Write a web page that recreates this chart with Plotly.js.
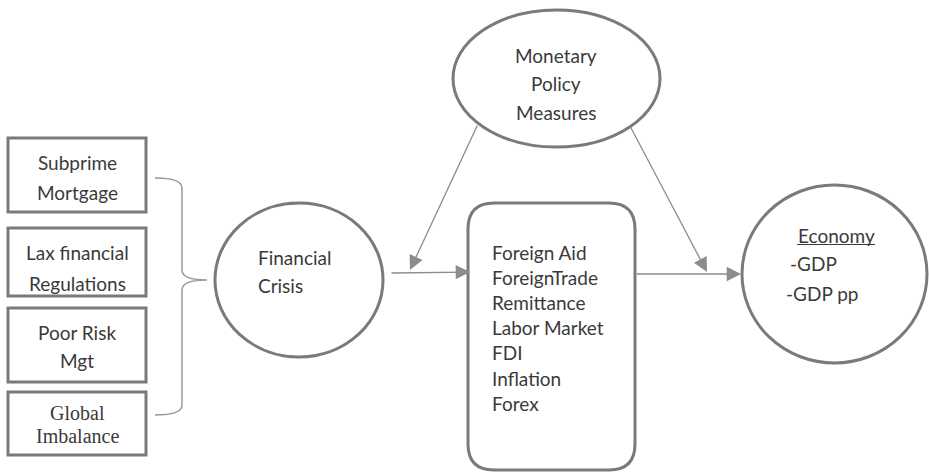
<!DOCTYPE html>
<html>
<head>
<meta charset="utf-8">
<script src="https://cdn.plot.ly/plotly-3.0.1.min.js"></script>
<style>html,body{margin:0;padding:0;background:#fff;}#chart{width:929px;height:472px;}</style>
</head>
<body>
<div id="chart"></div>
<script>
// ---- Diagram content ----
const causeLines = [
  ['Subprime', 'Mortgage'],
  ['Lax financial', 'Regulations'],
  ['Poor Risk', 'Mgt'],
  ['Global', 'Imbalance']
];
const crisisLines = ['Financial', 'Crisis'];
const policyLines = ['Monetary', 'Policy', 'Measures'];
const channels = ['Foreign Aid', 'ForeignTrade', 'Remittance', 'Labor Market', 'FDI', 'Inflation', 'Forex'];
const economyTitle = 'Economy';
const economyIndicators = ['-GDP', '-GDP pp'];

// ---- Layout geometry (pixels, y down) ----
const causeBoxes = [[8,138,146,212],[8,228,146,296],[8,308,146,382],[8,392,146,455]];
const causeTextY = [[162,192],[252,283],[332,360],[413,436]];
const crisisNode = [215,203,383,357];
const policyNode = [453,10,660,147];
const channelBox = [468,203,635,470];
const economyNode = [742,185,927,363];

const STROKE = '#7a7a7a';
const TEXT = '#3a3a3a';
const ARROW = '#8c8c8c';
const FONT = 'Lato, "Open Sans", sans-serif';
const FS = 19;

const shapes = [];
const annotations = [];

causeBoxes.forEach((b, i) => {
  shapes.push({type:'rect', x0:b[0], y0:b[1], x1:b[2], y1:b[3], line:{color:STROKE, width:3}, fillcolor:'rgba(0,0,0,0)'});
  const serif = (i === 3);
  causeLines[i].forEach((t, j) => {
    annotations.push({x:(b[0]+b[2])/2, y:causeTextY[i][j], text:t, showarrow:false, xanchor:'center', yanchor:'middle',
      font:{family: serif ? '"Liberation Serif", "DejaVu Serif", serif' : FONT, size: serif ? 20 : FS, color:TEXT}});
  });
});

// brace
shapes.push({type:'path', path:'M 155,178 Q 182,178 182,188 L 182,270 Q 182,280 207,280 Q 182,280 182,290 L 182,405 Q 182,415 155,415',
  line:{color:'#9a9a9a', width:1.5}});

// ellipses
[crisisNode, policyNode, economyNode].forEach(n => {
  shapes.push({type:'circle', x0:n[0], y0:n[1], x1:n[2], y1:n[3], line:{color:STROKE, width:3}, fillcolor:'rgba(0,0,0,0)'});
});

// rounded box
(function(){
  const [x0,y0,x1,y1] = channelBox, r = 26;
  const p = `M ${x0+r},${y0} L ${x1-r},${y0} Q ${x1},${y0} ${x1},${y0+r} L ${x1},${y1-r} Q ${x1},${y1} ${x1-r},${y1} ` +
            `L ${x0+r},${y1} Q ${x0},${y1} ${x0},${y1-r} L ${x0},${y0+r} Q ${x0},${y0} ${x0+r},${y0} Z`;
  shapes.push({type:'path', path:p, line:{color:STROKE, width:3}});
})();

// crisis text
crisisLines.forEach((t, j) => {
  annotations.push({x:256, y:257 + j*28, text:t, showarrow:false, xanchor:'left', yanchor:'middle', font:{family:FONT, size:FS, color:TEXT}});
});
// policy text
policyLines.forEach((t, j) => {
  annotations.push({x:556, y:55 + j*28.5, text:t, showarrow:false, xanchor:'center', yanchor:'middle', font:{family:FONT, size:FS, color:TEXT}});
});
// channels
channels.forEach((t, j) => {
  annotations.push({x:490, y:252 + j*25.2, text:t, showarrow:false, xanchor:'left', yanchor:'middle', font:{family:FONT, size:FS, color:TEXT}});
});
// economy
annotations.push({x:836, y:235, text:economyTitle, showarrow:false, xanchor:'center', yanchor:'middle', font:{family:FONT, size:FS, color:TEXT}});
shapes.push({type:'line', x0:797, x1:875, y0:244.5, y1:244.5, line:{color:TEXT, width:1}});
economyIndicators.forEach((t, j) => {
  annotations.push({x:[788,784][j], y:263 + j*30, text:t, showarrow:false, xanchor:'left', yanchor:'middle', font:{family:FONT, size:FS, color:TEXT}});
});

// arrows: [tailX, tailY, tipX, tipY]
const arrows = [[390,273,470,272],[478,124,410,270],[635,274,741,274],[630,126,707,272]];
arrows.forEach(a => {
  annotations.push({x:a[2], y:a[3], ax:a[0], ay:a[1], xref:'x', yref:'y', axref:'x', ayref:'y', text:'', showarrow:true,
    arrowhead:2, arrowsize:2.2, arrowwidth:1.3, arrowcolor:ARROW, standoff:0, startstandoff:0});
});

const layout = {
  width:929, height:472,
  margin:{l:0, r:0, t:0, b:0},
  paper_bgcolor:'#ffffff', plot_bgcolor:'#ffffff',
  xaxis:{range:[0,929], visible:false, fixedrange:true},
  yaxis:{range:[472,0], visible:false, fixedrange:true},
  shapes:shapes, annotations:annotations, showlegend:false
};
Plotly.newPlot('chart', [{x:[], y:[], type:'scatter', mode:'markers', hoverinfo:'skip'}], layout, {staticPlot:true, displayModeBar:false});
</script>
</body>
</html>
